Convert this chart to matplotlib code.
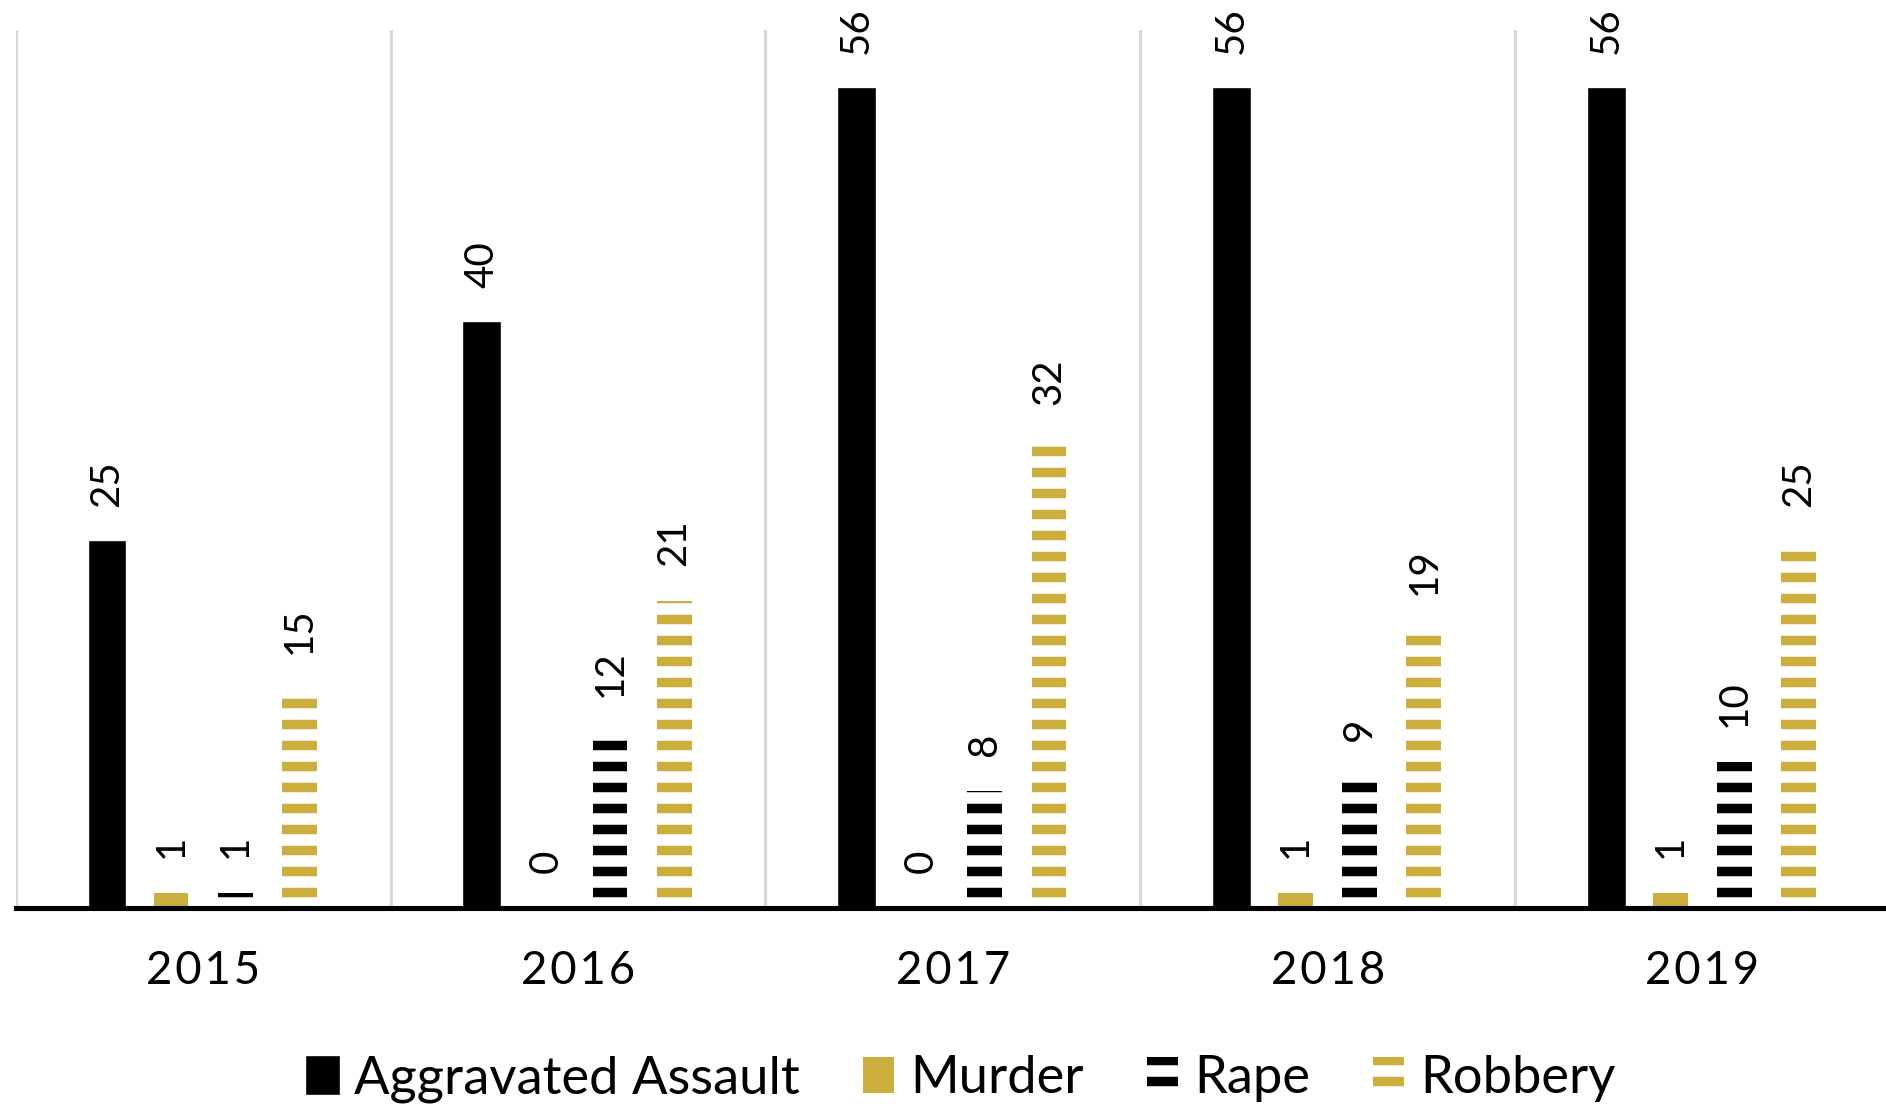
import matplotlib
matplotlib.use("Agg")
import matplotlib.pyplot as plt
import numpy as np

# --- data ---
years = ["2015", "2016", "2017", "2018", "2019"]
crimes = ["Aggravated Assault", "Murder", "Rape", "Robbery"]
assault = [25, 40, 56, 56, 56]
murder = [1, 0, 0, 1, 1]
rape = [1, 12, 8, 9, 10]
robbery = [15, 21, 32, 19, 25]

GOLD = "#CBAE3B"
DPI = 126   # 1/6 inch hatch spacing -> ~21 px stripes like the original

plt.rcParams["font.family"] = ["Lato", "DejaVu Sans"]
plt.rcParams["hatch.linewidth"] = 5.4

fig = plt.figure(figsize=(1886 / DPI, 1108 / DPI), dpi=DPI)
ax = fig.add_axes([0.0083, 0.1805, 0.9938, 0.7924])

x = np.arange(len(years))
step, width = 0.171, 0.093
styles = [
    dict(color="black", edgecolor="black", linewidth=1.5),
    dict(color=GOLD, linewidth=0),
    dict(facecolor="none", edgecolor="black", hatch="-", linewidth=0),
    dict(facecolor="none", edgecolor=GOLD, hatch="-", linewidth=0),
]
series = [assault, murder, rape, robbery]
for i, (name, vals, st) in enumerate(zip(crimes, series, styles)):
    bars = ax.bar(x + (i - 1.5) * step, vals, width, label=name, **st)
    ax.bar_label(bars, padding=20, rotation=90, fontsize=23)

# tracked-out year labels, as in the original
spaced = ["\u200a".join(y) for y in years]

ax.set_xlim(-0.5, 4.5)
ax.set_ylim(0, 60)
ax.set_yticks([])
ax.set_xticks(x)
ax.set_xticklabels(spaced, fontsize=26)
ax.set_xticks(np.arange(-0.5, 5, 1), minor=True)
ax.grid(which="minor", axis="x", color="#D9D9D9", linewidth=1.8)
ax.tick_params(which="both", length=0)
ax.tick_params(axis="x", which="major", pad=24)
ax.set_axisbelow(True)
for s in ["left", "right", "top"]:
    ax.spines[s].set_visible(False)
ax.spines["bottom"].set_linewidth(2.9)
ax.spines["bottom"].set_zorder(5)

fig.legend(loc="center", bbox_to_anchor=(0.5096, 0.026), ncol=4, frameon=False,
           fontsize=30, handlelength=0.6, handleheight=0.7, handletextpad=0.3,
           columnspacing=1.2)

fig.savefig("out.png", dpi=DPI)
